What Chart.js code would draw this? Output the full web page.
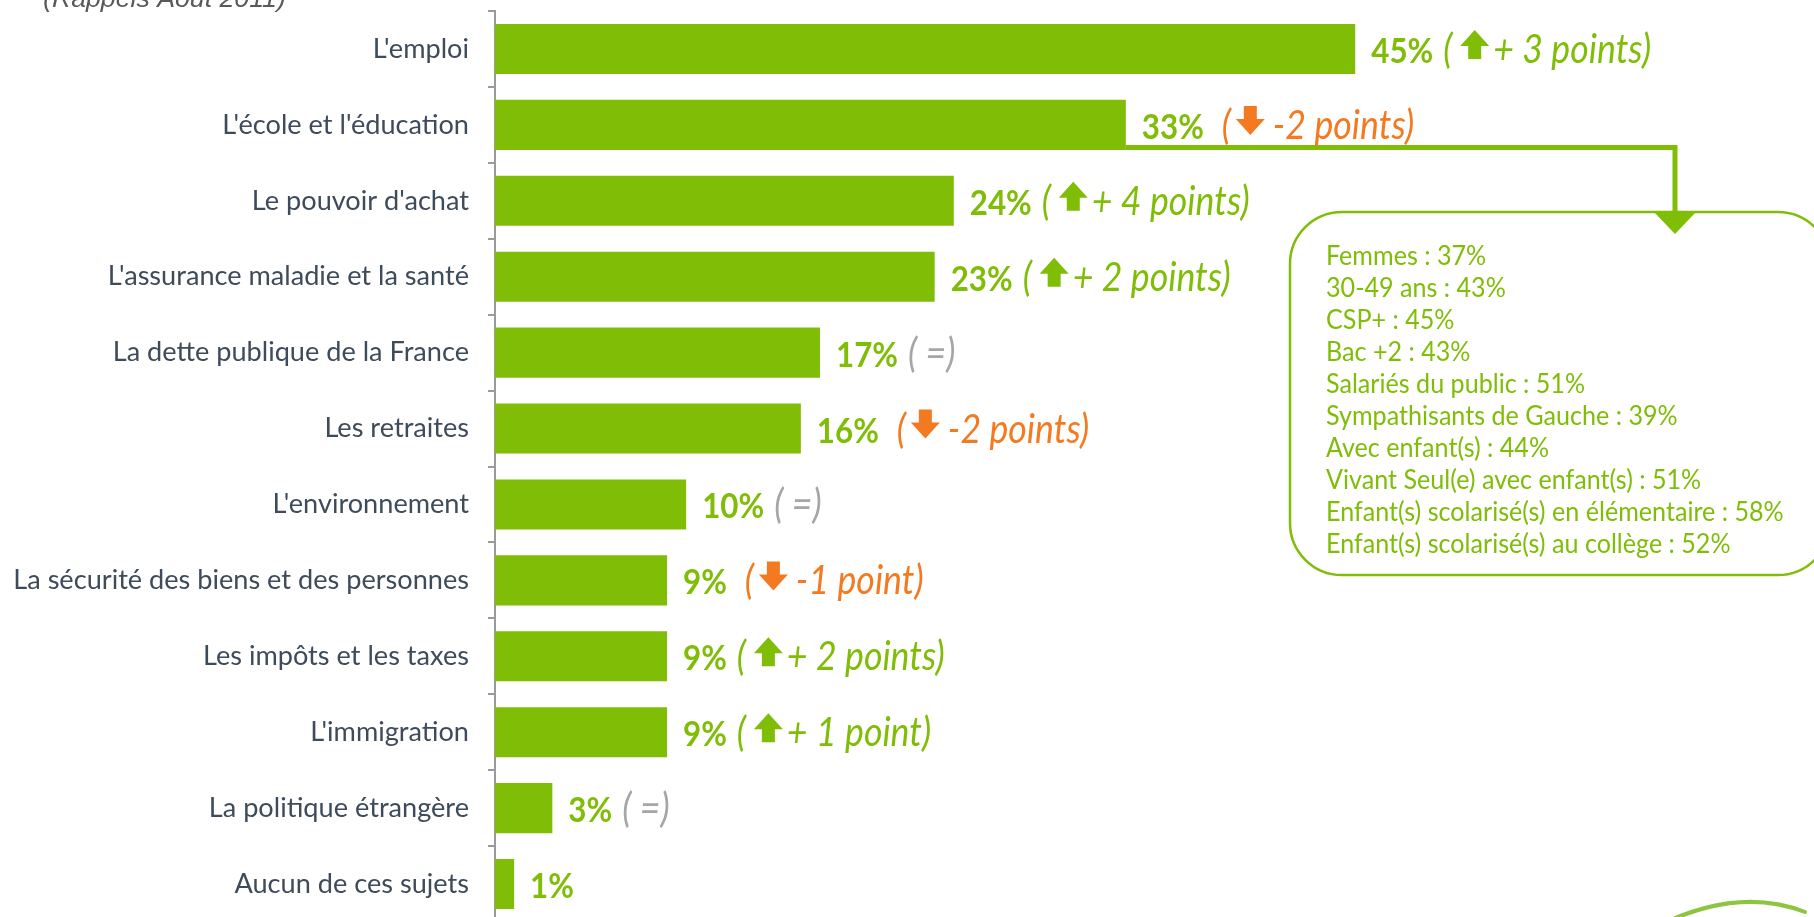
<!DOCTYPE html>
<html><head><meta charset="utf-8">
<script src="https://cdn.jsdelivr.net/npm/chart.js@4.4.0/dist/chart.umd.min.js"></script>
<style>
html,body{margin:0;padding:0;background:#fff;overflow:hidden;width:1814px;height:917px}
#wrap{position:absolute;left:0;top:0;width:1814px;height:925px}
</style>
</head><body><div id="wrap"><canvas id="c" width="1814" height="925"></canvas></div>
<script>
// ---- data ----
const categories = ["L'emploi","L'école et l'éducation","Le pouvoir d'achat","L'assurance maladie et la santé","La dette publique de la France","Les retraites","L'environnement","La sécurité des biens et des personnes","Les impôts et les taxes","L'immigration","La politique étrangère","Aucun de ces sujets"];
const values = [45,33,24,23,17,16,10,9,9,9,3,1];
const changeDir = ['up','down','up','up','eq','down','eq','down','up','up','eq',null];
const changeText = ['+ 3 points','-2 points','+ 4 points','+ 2 points','=','-2 points','=','-1 point','+ 2 points','+ 1 point','=',null];
const subtitle = '(Rappels Août 2011)';
const calloutLines = ['Femmes : 37%','30-49 ans : 43%','CSP+ : 45%','Bac +2 : 43%','Salariés du public : 51%','Sympathisants de Gauche : 39%','Avec enfant(s) : 44%','Vivant Seul(e) avec enfant(s) : 51%','Enfant(s) scolarisé(s) en élémentaire : 58%','Enfant(s) scolarisé(s) au collège : 52%'];
const calloutIndex = 1;

// ---- styles ----
const GREEN = '#7fbd07', ORANGE = '#f47a22', GREY = '#a6a6a6', LABEL = '#3e4b5b';
const FAM = 'Lato, "Open Sans", sans-serif';
const SX_VAL = 0.9, SX_CHG = 0.88, SX_BOX = 0.92;
const mctx = document.createElement('canvas').getContext('2d');
function fit(text, target, style, fam){ mctx.font = style + ' 100px ' + fam; return 100*target/mctx.measureText(text).width; }
const labelSize = fit("La sécurité des biens et des personnes", 456, 'normal', FAM);
const valSize = fit('45%', 62, 'bold', FAM) / SX_VAL;
const chgSize = fit('+ 3 points)', 158, 'italic', FAM) / SX_CHG;
const boxSize = fit('Enfant(s) scolarisé(s) en élémentaire : 58%', 458, 'normal', FAM) / SX_BOX;
const subSize = fit(subtitle, 243, 'italic', '"Liberation Sans", Arial, sans-serif');

function text(ctx, t, x, y, sx){
  ctx.save(); ctx.translate(x, y); ctx.scale(sx, 1); ctx.fillText(t, 0, 0); ctx.restore();
  return ctx.measureText(t).width * sx;
}

function drawArrow(ctx, left, cy, dir, col){
  const hw = 14.5, sw = 6.5, h = 29, hh = 16, cx = left + hw;
  const t = cy - h/2, b = cy + h/2;
  ctx.save(); ctx.fillStyle = col; ctx.beginPath();
  if(dir === 'up'){
    ctx.moveTo(cx, t); ctx.lineTo(cx+hw, t+hh); ctx.lineTo(cx+sw, t+hh); ctx.lineTo(cx+sw, b);
    ctx.lineTo(cx-sw, b); ctx.lineTo(cx-sw, t+hh); ctx.lineTo(cx-hw, t+hh);
  } else {
    ctx.moveTo(cx, b); ctx.lineTo(cx+hw, b-hh); ctx.lineTo(cx+sw, b-hh); ctx.lineTo(cx+sw, t);
    ctx.lineTo(cx-sw, t); ctx.lineTo(cx-sw, b-hh); ctx.lineTo(cx-hw, b-hh);
  }
  ctx.closePath(); ctx.fill(); ctx.restore();
  return 2*hw;
}

const decor = {
  id: 'decor',
  afterDatasetsDraw(chart){
    const ctx = chart.ctx;
    const meta = chart.getDatasetMeta(0);
    // connector + callout
    const bar = meta.data[calloutIndex];
    const ly = bar.y + bar.height/2 - 2.5;
    const vx = 1675, boxTop = 212;
    ctx.save();
    ctx.strokeStyle = GREEN; ctx.lineWidth = 5; ctx.lineCap = 'butt';
    ctx.beginPath(); ctx.moveTo(bar.x, ly); ctx.lineTo(vx, ly); ctx.lineTo(vx, boxTop + 4); ctx.stroke();
    const bx = 1290, bw = 540, bh = 363, r = 52;
    ctx.lineWidth = 2.5; ctx.fillStyle = '#fff';
    ctx.beginPath();
    ctx.moveTo(bx + r, boxTop); ctx.lineTo(bx + bw - r, boxTop); ctx.arcTo(bx+bw, boxTop, bx+bw, boxTop+r, r);
    ctx.lineTo(bx+bw, boxTop+bh-r); ctx.arcTo(bx+bw, boxTop+bh, bx+bw-r, boxTop+bh, r);
    ctx.lineTo(bx+r, boxTop+bh); ctx.arcTo(bx, boxTop+bh, bx, boxTop+bh-r, r);
    ctx.lineTo(bx, boxTop+r); ctx.arcTo(bx, boxTop, bx+r, boxTop, r); ctx.closePath();
    ctx.fill(); ctx.stroke();
    ctx.fillStyle = GREEN; ctx.beginPath();
    ctx.moveTo(vx-21, boxTop); ctx.lineTo(vx+21, boxTop); ctx.lineTo(vx, boxTop+22); ctx.closePath(); ctx.fill();
    ctx.font = 'normal ' + boxSize + 'px ' + FAM; ctx.textAlign = 'left'; ctx.textBaseline = 'alphabetic';
    calloutLines.forEach((t, i) => text(ctx, t, 1326, 265 + i*32, SX_BOX));
    ctx.restore();

    // value labels
    ctx.save(); ctx.textAlign = 'left'; ctx.textBaseline = 'alphabetic';
    meta.data.forEach((b, i) => {
      let x = b.x + 16; const base = b.y + 14;
      ctx.font = 'bold ' + valSize + 'px ' + FAM; ctx.fillStyle = GREEN;
      x += text(ctx, values[i] + '%', x, base, SX_VAL);
      const dir = changeDir[i]; if(!dir) return;
      const col = dir === 'up' ? GREEN : dir === 'down' ? ORANGE : GREY;
      x += dir === 'down' ? 18 : 10;
      ctx.font = 'italic ' + chgSize + 'px ' + FAM; ctx.fillStyle = col;
      if(dir === 'eq'){ text(ctx, '( ' + changeText[i] + ')', x, base, SX_CHG); return; }
      text(ctx, '(', x, base, SX_CHG);
      x += dir === 'down' ? 14 : 17;
      x += drawArrow(ctx, x, b.y - 4.5, dir, col);
      x += dir === 'down' ? 8 : 4;
      text(ctx, changeText[i] + ')', x, base, SX_CHG);
    });
    ctx.restore();

    // subtitle (cut at top)
    ctx.save(); ctx.font = 'italic ' + subSize + 'px "Liberation Sans", Arial, sans-serif';
    ctx.fillStyle = '#595959'; ctx.textAlign = 'left'; ctx.textBaseline = 'alphabetic';
    ctx.fillText(subtitle, 43, 7); ctx.restore();

    // decorative swoosh bottom right
    ctx.save(); ctx.strokeStyle = '#8dc540'; ctx.lineWidth = 4; ctx.lineCap = 'round';
    ctx.beginPath(); ctx.moveTo(1650, 930); ctx.quadraticCurveTo(1735, 885, 1805, 912); ctx.stroke(); ctx.restore();
  }
};

new Chart(document.getElementById('c'), {
  type: 'bar',
  data: { labels: categories, datasets: [{ data: values, backgroundColor: GREEN, borderWidth: 0, barPercentage: 0.66, categoryPercentage: 1 }] },
  options: {
    indexAxis: 'y', responsive: false, animation: false, devicePixelRatio: 1,
    layout: { padding: { top: 11, bottom: 3, left: 0, right: 0 } },
    plugins: { legend: { display: false }, tooltip: { enabled: false } },
    scales: {
      x: { display: false, min: 0, max: 69 },
      y: {
        afterFit(s){ s.width = 495; s.paddingTop = 0; s.paddingBottom = 0; },
        grid: { drawOnChartArea: false, drawTicks: true, tickLength: 7, color: '#9a9a9a', lineWidth: 2, offset: true },
        border: { display: true, color: '#9a9a9a', width: 2 },
        ticks: { color: LABEL, padding: 19, font: { family: FAM, size: labelSize } }
      }
    }
  },
  plugins: [decor]
});
</script>
</body></html>
